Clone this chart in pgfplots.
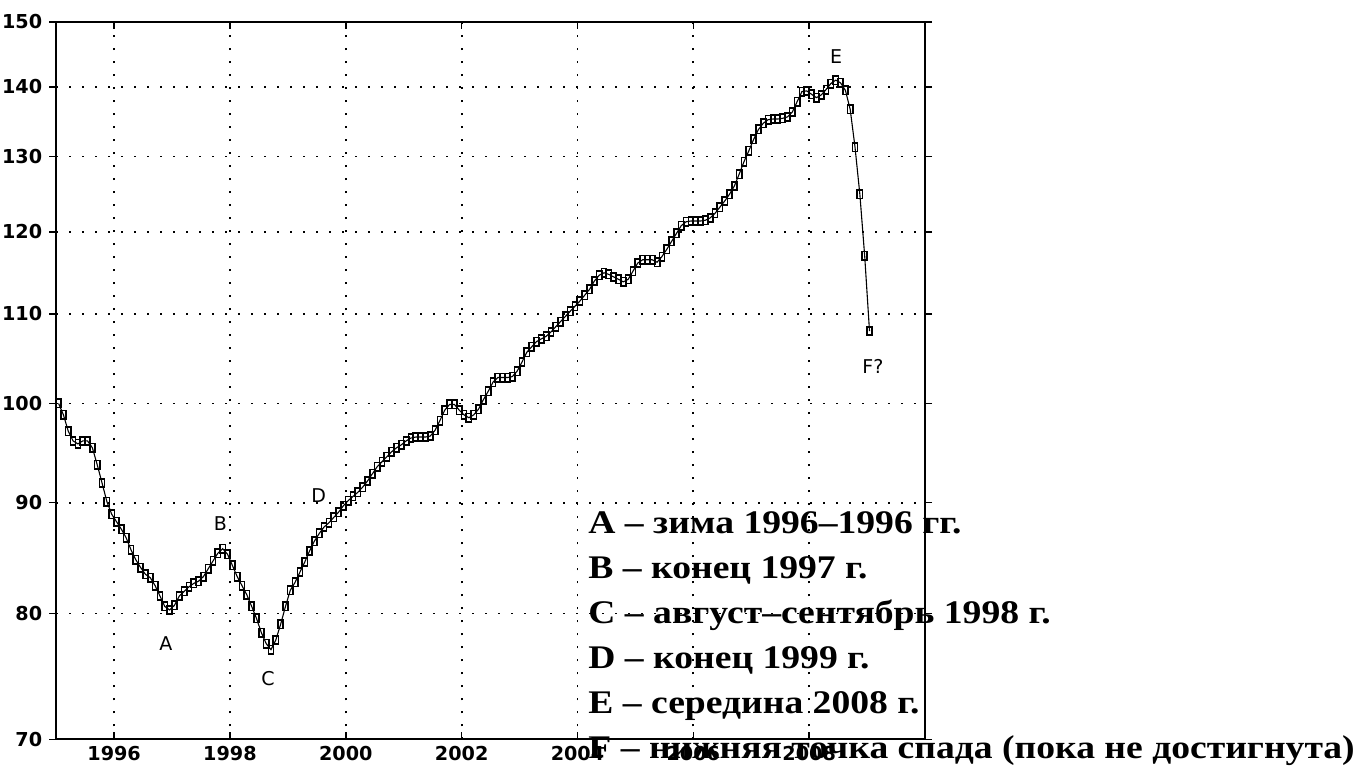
\documentclass[border=0pt]{standalone}
\usepackage{fontspec}
\usepackage{graphicx}
\usepackage{pgfplots}
\pgfplotsset{compat=1.18}
\setmainfont{DejaVu Sans}
\newfontfamily\tickfont{DejaVu Sans}
\newfontfamily\legfont{Liberation Serif}
\newcommand\leg[1]{\scalebox{1.14}[1]{#1}}
\begin{document}
\begin{tikzpicture}
\begin{axis}[
  at={(28.1pt,13.35pt)}, anchor=south west,
  scale only axis, width=434.4pt, height=358.65pt,
  ymode=log, ymin=70, ymax=150,
  xmin=-0.5, xmax=179.5,
  xtick={11.5,35.5,59.5,83.5,107.5,131.5,155.5},
  xticklabels={1996,1998,2000,2002,2004,2006,2008},
  ytick={70,80,90,100,110,120,130,140,150},
  yticklabels={70,80,90,100,110,120,130,140,150},
  minor ytick={},
  xtick align=inside, ytick align=outside,
  major tick length=3.5pt,
  tick style={black, line width=0.7pt},
  axis line style={black, line width=0.8pt},
  grid=major,
  major grid style={black, line width=0.9pt, dash pattern=on 0.9pt off 5.6pt},
  tick label style={font=\tickfont\bfseries\fontsize{9.6}{10}\selectfont},
  /pgf/number format/assume math mode=true,
  clip=false,
]
\addplot[black, line width=0.55pt, mark=square, mark size=2.1pt,
  mark options={xscale=0.62, solid, line width=0.8pt}] coordinates {
(0,100.0)(1,98.8)(2,97.1)(3,96.1)(4,95.8)(5,96.1)(6,96.1)(7,95.4)(8,93.7)(9,91.9)
(10,90.1)(11,88.9)(12,88.2)(13,87.5)(14,86.7)(15,85.6)(16,84.7)(17,84.0)(18,83.4)(19,83.1)
(20,82.4)(21,81.5)(22,80.6)(23,80.3)(24,80.7)(25,81.5)(26,81.9)(27,82.3)(28,82.6)(29,82.8)
(30,83.2)(31,83.9)(32,84.6)(33,85.3)(34,85.7)(35,85.2)(36,84.2)(37,83.2)(38,82.4)(39,81.6)
(40,80.6)(41,79.6)(42,78.4)(43,77.5)(44,77.0)(45,77.8)(46,79.1)(47,80.6)(48,82.0)(49,82.7)
(50,83.6)(51,84.5)(52,85.5)(53,86.4)(54,87.1)(55,87.7)(56,88.1)(57,88.6)(58,89.1)(59,89.7)
(60,90.2)(61,90.6)(62,91.0)(63,91.5)(64,92.1)(65,92.8)(66,93.5)(67,94.0)(68,94.5)(69,95.0)
(70,95.4)(71,95.7)(72,96.1)(73,96.4)(74,96.5)(75,96.5)(76,96.5)(77,96.6)(78,97.2)(79,98.2)
(80,99.3)(81,99.9)(82,99.9)(83,99.3)(84,98.8)(85,98.5)(86,98.8)(87,99.4)(88,100.4)(89,101.3)
(90,102.3)(91,102.8)(92,102.8)(93,102.8)(94,102.9)(95,103.5)(96,104.5)(97,105.6)(98,106.2)(99,106.8)
(100,107.1)(101,107.4)(102,107.9)(103,108.5)(104,109.1)(105,109.7)(106,110.3)(107,110.9)(108,111.5)(109,112.2)
(110,112.9)(111,113.9)(112,114.6)(113,114.9)(114,114.7)(115,114.4)(116,114.1)(117,113.8)(118,114.1)(119,115.1)
(120,116.1)(121,116.5)(122,116.5)(123,116.5)(124,116.2)(125,116.9)(126,117.8)(127,118.8)(128,119.8)(129,120.8)
(130,121.3)(131,121.4)(132,121.4)(133,121.4)(134,121.5)(135,121.8)(136,122.4)(137,123.2)(138,124.0)(139,124.9)
(140,126.0)(141,127.6)(142,129.3)(143,130.8)(144,132.4)(145,133.8)(146,134.7)(147,135.2)(148,135.3)(149,135.3)
(150,135.4)(151,135.6)(152,136.3)(153,137.8)(154,139.3)(155,139.4)(156,138.9)(157,138.4)(158,138.8)(159,139.6)
(160,140.5)(161,141.0)(162,140.6)(163,139.5)(164,136.7)(165,131.3)(166,124.9)(167,117.0)(168,108.0)
};
\begin{scope}[font=\tickfont\fontsize{9.5}{10}\selectfont]
\node at (axis cs:22.2,77.5) {A};
\node at (axis cs:33.5,88.06) {B};
\node at (axis cs:43.4,74.63) {C};
\node at (axis cs:53.9,90.68) {D};
\node at (axis cs:161.1,144.5) {E};
\node at (axis cs:168.7,104.0) {F?};
\end{scope}
\end{axis}
\begin{scope}[every node/.style={anchor=base west, inner sep=0pt, font=\legfont\bfseries\fontsize{16.5}{18}\selectfont}]
\node at (294pt,116.5pt) {\leg{A – зима 1996–1996 гг.}};
\node at (294pt,94pt) {\leg{B – конец 1997 г.}};
\node at (294pt,71.5pt) {\leg{C – август–сентябрь 1998 г.}};
\node at (294pt,49pt) {\leg{D – конец 1999 г.}};
\node at (294pt,26.5pt) {\leg{E – середина 2008 г.}};
\node at (294pt,4pt) {\leg{F – нижняя точка спада (пока не достигнута)}};
\end{scope}
\pgfresetboundingbox
\path[use as bounding box] (0,0) rectangle (679.5pt,383pt);
\end{tikzpicture}
\end{document}
